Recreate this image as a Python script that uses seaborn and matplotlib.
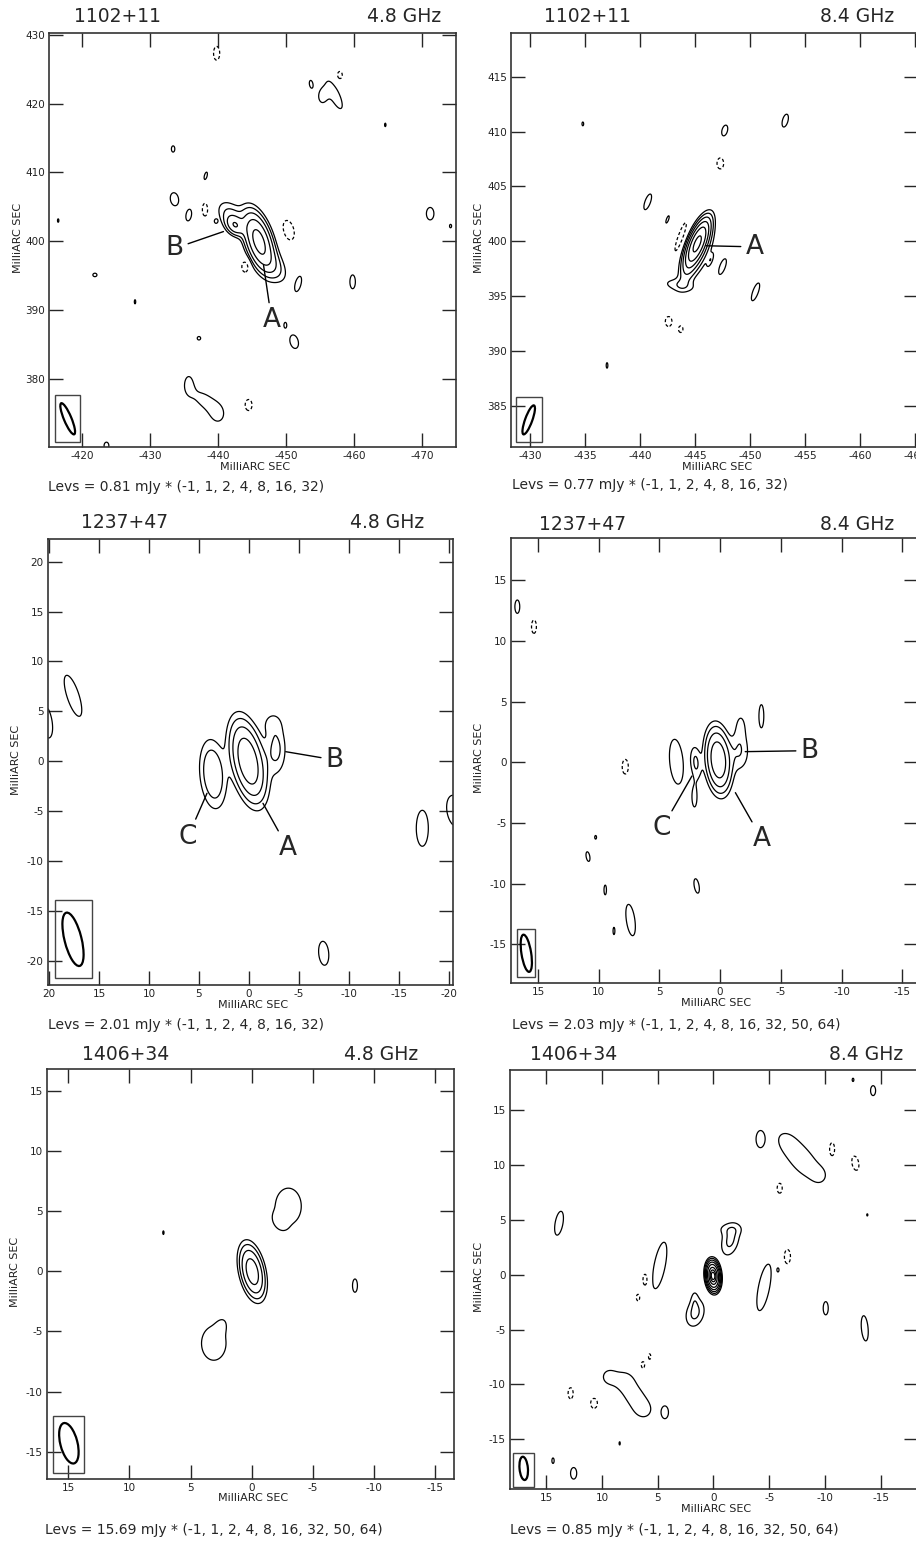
import numpy as np
import matplotlib
matplotlib.use("Agg")
import matplotlib.pyplot as plt
from matplotlib.patches import Ellipse, Rectangle
import seaborn as sns

sns.set_style("ticks")
plt.rcParams['font.family'] = ['DejaVu Sans']

FIG_W, FIG_H = 916, 1550

# ---------------- data ----------------
sources = ["1102+11", "1102+11", "1237+47", "1237+47", "1406+34", "1406+34"]
freqs = ["4.8 GHz", "8.4 GHz", "4.8 GHz", "8.4 GHz", "4.8 GHz", "8.4 GHz"]
base_mjy = [0.81, 0.77, 2.01, 2.03, 15.69, 0.85]
levs_short = [-1, 1, 2, 4, 8, 16, 32]
levs_long = [-1, 1, 2, 4, 8, 16, 32, 50, 64]
panel_levs = [levs_short, levs_short, levs_short, levs_long, levs_long, levs_long]

xlims = [(-415.15, -475.0), (-428.27, -465.27), (20.1, -20.4),
         (17.22, -16.3), (16.74, -16.55), (18.26, -18.35)]
ylims = [(370.1, 430.25), (381.27, 418.98), (-22.44, 22.27),
         (-18.19, 18.49), (-17.27, 16.8), (-19.53, 18.67)]
xticks = [list(range(-420, -471, -10)), list(range(-430, -466, -5)),
          list(range(20, -21, -5)), list(range(15, -16, -5)),
          list(range(15, -16, -5)), list(range(15, -16, -5))]
yticks = [list(range(380, 431, 10)), list(range(385, 416, 5)),
          list(range(-20, 21, 5)), list(range(-15, 16, 5)),
          list(range(-15, 16, 5)), list(range(-15, 16, 5))]

# bright components: (x, y, fwhm_major, fwhm_minor, PA deg, peak in units of lowest level)
comps_1102_c = [(-446.0, 400.0, 5.5, 2.3, 18, 21.0),
                (-442.5, 402.3, 2.2, 1.6, 40, 6.5),
                (-442.0, 403.6, 4.0, 2.5, 40, 2.5),
                (-448.0, 396.6, 4.4, 2.4, 35, 2.5)]
comps_1102_x = [(-445.2, 399.8, 2.8, 0.9, -22, 36.0),
                (-445.3, 399.3, 3.8, 1.6, -20, 3.5),
                (-443.5, 396.0, 2.6, 1.0, 80, 1.5),
                (-444.3, 397.2, 2.5, 1.0, -20, 1.5),
                (-443.7, 400.4, 3.5, 0.6, -20, -1.6)]
comps_1237_c = [(0.1, 0.0, 5.2, 2.0, 12, 14.0),
                (3.6, -1.3, 5.0, 1.9, 5, 3.8),
                (-2.7, 1.2, 4.0, 1.6, 0, 2.4),
                (-2.3, 3.8, 1.8, 1.6, 0, 1.1)]
comps_1237_x = [(0.15, 0.2, 3.3, 1.3, 5, 14.0),
                (-1.6, 0.9, 2.6, 1.3, 0, 2.0),
                (-1.7, 3.0, 2.0, 0.8, 0, 1.2),
                (2.0, 0.0, 2.2, 0.7, 5, 2.2),
                (2.1, -2.9, 2.4, 0.6, 0, 1.3)]
comps_1406_c = [(-0.05, -0.04, 2.85, 1.2, 12, 12.0)]
comps_1406_x = [(0.04, -0.1, 1.4, 0.66, 5, 75.0),
                (-1.5, 3.1, 2.4, 1.3, -15, 2.3),
                (-1.4, 4.2, 2.2, 1.0, 90, 1.0),
                (1.65, -3.5, 2.2, 1.4, -15, 2.3),
                (1.7, -2.2, 1.6, 0.6, 0, 1.0)]

# faint lowest-contour islands: (x, y, width, height, PA deg, weight; <0 = negative)
blobs_1102_c = [(-439.8, 427.3, 0.9, 2.0, 0, -1), (-453.7, 422.8, 0.5, 1.1, 10, 1),
                (-457.9, 424.1, 0.8, 1.2, 0, -1), (-455.3, 421.0, 1.2, 2.0, 0, 0.8),
                (-457.2, 421.2, 1.8, 5.8, 25, 0.8), (-464.6, 416.9, 0.2, 0.5, 0, 1),
                (-433.4, 413.4, 0.5, 0.9, 0, 1), (-438.2, 409.5, 0.4, 1.1, -15, 1),
                (-433.6, 406.1, 1.2, 1.9, 10, 1), (-435.7, 403.8, 0.8, 1.7, -10, 1),
                (-438.1, 404.6, 0.8, 1.9, 0, -1), (-439.7, 402.9, 0.4, 0.5, 0, 1),
                (-450.4, 401.6, 1.5, 2.9, 15, -1), (-444.0, 396.3, 1.0, 1.6, 0, -1),
                (-451.8, 393.8, 0.8, 2.2, -15, 1), (-459.8, 394.1, 0.8, 2.0, 0, 1),
                (-471.2, 404.0, 1.1, 1.8, 0, 1), (-474.2, 402.2, 0.3, 0.5, 0, 1),
                (-416.5, 403.0, 0.2, 0.5, 0, 1), (-421.9, 395.1, 0.6, 0.5, 0, 1),
                (-427.8, 391.2, 0.2, 0.6, 0, 1), (-449.9, 387.8, 0.4, 0.8, 0, 1),
                (-451.2, 385.4, 1.2, 2.0, 15, 1), (-437.2, 385.9, 0.5, 0.5, 0, 1),
                (-435.7, 379.2, 1.5, 3.0, 0, 0.8), (-437.8, 377.0, 1.8, 2.8, 50, 0.8),
                (-439.9, 375.0, 2.3, 3.0, 10, 0.8), (-444.5, 376.2, 1.0, 1.6, 0, -1),
                (-423.6, 370.3, 0.7, 1.0, 0, 1)]
blobs_1102_x = [(-434.8, 410.7, 0.15, 0.35, 0, 1), (-447.7, 410.1, 0.5, 1.0, -15, 1),
                (-453.2, 411.0, 0.5, 1.2, -15, 1), (-447.3, 407.1, 0.6, 1.0, 0, -1),
                (-440.7, 403.6, 0.5, 1.5, -20, 1), (-442.5, 402.0, 0.2, 0.7, -20, 1),
                (-446.4, 398.3, 0.3, 0.9, -20, 1), (-447.5, 397.7, 0.5, 1.5, -20, 1),
                (-450.5, 395.4, 0.5, 1.7, -20, 1), (-442.6, 392.7, 0.6, 0.9, 0, -1),
                (-443.7, 392.0, 0.4, 0.6, 0, -1), (-437.0, 388.7, 0.15, 0.5, 0, 1)]
blobs_1237_c = [(17.6, 6.55, 1.2, 4.3, 18, 1), (20.3, 4.0, 1.2, 3.4, 10, 1),
                (-17.33, -6.73, 1.2, 3.6, 0, 1), (-20.6, -5.0, 1.6, 3.2, 10, 1),
                (-7.47, -19.26, 1.0, 2.4, 5, 1)]
blobs_1237_x = [(3.6, 0.05, 1.1, 3.7, 5, 1), (-3.4, 3.8, 0.4, 1.9, 0, 1),
                (16.7, 12.83, 0.4, 1.1, 0, 1), (15.33, 11.18, 0.4, 1.1, 0, -1),
                (7.81, -0.36, 0.5, 1.2, 0, -1), (10.25, -6.18, 0.15, 0.3, 0, 1),
                (10.88, -7.77, 0.3, 0.8, 10, 1), (9.46, -10.52, 0.2, 0.8, 0, 1),
                (1.93, -10.19, 0.4, 1.2, 10, 1), (7.37, -13.0, 0.7, 2.6, 8, 1),
                (8.74, -13.9, 0.15, 0.6, 0, 1)]
blobs_1406_c = [(-3.0, 5.4, 2.4, 3.4, 0, 0.9), (-2.3, 4.1, 0.7, 1.0, 30, 0.6),
                (3.1, -6.0, 2.0, 2.8, 0, 1.0), (2.5, -4.6, 0.6, 1.0, -20, 0.6),
                (-8.45, -1.2, 0.4, 1.1, 0, 1), (7.22, 3.2, 0.1, 0.3, 0, 1)]
blobs_1406_x = [(-12.52, 17.77, 0.15, 0.3, 0, 1), (-14.32, 16.79, 0.45, 0.9, 0, 1),
                (-4.2, 12.36, 0.75, 1.5, 0, 1),
                (-6.5, 12.2, 1.6, 2.1, 38, 0.7), (-7.6, 10.9, 1.6, 2.1, 38, 0.7),
                (-8.5, 9.8, 1.6, 2.1, 38, 0.7), (-9.6, 9.0, 1.3, 1.5, 0, 0.55),
                (-10.64, 11.44, 0.45, 1.2, 0, -1), (-12.73, 10.17, 0.6, 1.3, 10, -1),
                (-5.94, 7.89, 0.45, 0.9, 0, -1), (-13.8, 5.46, 0.1, 0.2, 0, 1),
                (13.86, 4.7, 0.7, 2.2, -10, 1), (4.83, 0.85, 1.0, 4.3, -11, 1),
                (6.12, -0.47, 0.45, 1.2, 0, -1), (6.77, -2.08, 0.3, 0.6, 0, -1),
                (-4.53, -1.15, 1.0, 4.3, -11, 1), (-5.79, 0.44, 0.15, 0.3, 0, 1),
                (-6.63, 1.66, 0.55, 1.3, 0, -1), (-10.07, -3.05, 0.45, 1.2, 0, 1),
                (-13.57, -4.88, 0.6, 2.3, 5, 1), (5.73, -7.46, 0.2, 0.5, 0, -1),
                (6.33, -8.22, 0.3, 0.6, 0, -1),
                (9.4, -9.3, 1.2, 1.3, 0, 0.8), (8.0, -9.6, 1.4, 1.4, 0, 0.8),
                (7.2, -10.9, 1.6, 1.8, 40, 0.8), (6.3, -12.3, 1.5, 1.6, 40, 0.8),
                (12.82, -10.8, 0.45, 1.0, 0, -1), (10.72, -11.72, 0.6, 0.9, 0, -1),
                (4.35, -12.54, 0.6, 1.1, 0, 1), (8.42, -15.37, 0.1, 0.3, 0, 1),
                (14.4, -16.95, 0.2, 0.5, 0, 1), (12.55, -18.1, 0.55, 1.05, 0, 1)]

panel_comps = [comps_1102_c, comps_1102_x, comps_1237_c, comps_1237_x, comps_1406_c, comps_1406_x]
panel_blobs = [blobs_1102_c, blobs_1102_x, blobs_1237_c, blobs_1237_x, blobs_1406_c, blobs_1406_x]

# restoring beam (x, y, major, minor, PA) and its box (x0, x1, y0, y1)
beams = [(-417.9, 374.2, 4.9, 1.1, 23), (-429.88, 383.74, 2.8, 0.65, -20),
         (17.6, -17.86, 5.5, 1.7, 14), (15.96, -15.74, 3.1, 0.8, 9),
         (14.95, -14.3, 3.45, 1.4, 14), (17.03, -17.65, 2.13, 0.75, 5)]
beam_boxes = [(-416.0, -419.7, 370.85, 377.6), (-428.76, -431.09, 381.76, 385.8),
              (19.43, 15.7, -21.7, -13.92), (16.7, 15.22, -17.72, -13.76),
              (16.23, 13.69, -16.75, -12.0), (17.99, 16.14, -19.32, -16.28)]

# component labels: (letter, text x, text y, line end x, line end y)
labels = [[("B", -433.6, 398.95, -440.8, 401.4), ("A", -447.9, 388.5, -446.7, 396.5)],
          [("A", -450.4, 399.5, -446.0, 399.6)],
          [("B", -8.57, 0.12, -3.67, 0.95), ("C", 6.1, -7.57, 4.2, -3.22),
           ("A", -3.9, -8.74, -1.4, -4.23)],
          [("B", -7.37, 0.96, -2.07, 0.88), ("C", 4.79, -5.44, 2.32, -1.13),
           ("A", -3.45, -6.35, -1.26, -2.5)],
          [], []]

# ---------------- layout (pixels) ----------------
axes_px = [(49, 456, 33, 447), (511, 918, 33, 447), (48, 453, 539, 985),
           (511, 918, 538, 983), (47, 454, 1069, 1479), (510, 918, 1070, 1489)]
src_pos = [(117, 17), (588, 17), (125, 523), (583, 524), (126, 1055), (574, 1055)]
freq_pos = [(441, 17), (894, 17), (424, 523), (894, 524), (418, 1055), (903, 1055)]
xlab_pos = [(255, 467), (717, 467), (253, 1005), (716, 1003), (253, 1498), (716, 1509)]
ylab_pos = [(18, 238), (479, 238), (16, 760), (479, 758), (15, 1272), (479, 1277)]
levs_pos = [(48, 487), (512, 485), (48, 1025), (512, 1025), (45, 1530), (510, 1530)]


def gauss_map(xx, yy, comps):
    z = np.zeros_like(xx)
    for x0, y0, maj, mnr, pa, amp in comps:
        t = np.deg2rad(pa)
        dx, dy = xx - x0, yy - y0
        a = dx * np.sin(t) + dy * np.cos(t)
        b = dx * np.cos(t) - dy * np.sin(t)
        z += amp * np.exp(-4 * np.log(2) * ((a / maj) ** 2 + (b / mnr) ** 2))
    return z


def blobs_to_comps(blobs, peak=1.6):
    # size of the lowest contour -> gaussian fwhm
    k = np.sqrt(np.log(peak) / np.log(2))
    return [(x, y, h / k, w / k, pa, peak * s) for x, y, w, h, pa, s in blobs]


def ftext(fig, px, py, s, **kw):
    fig.text(px / FIG_W, 1 - py / FIG_H, s, **kw)


fig = plt.figure(figsize=(FIG_W / 100, FIG_H / 100), dpi=100)

for i in range(6):
    l, r, t, b = axes_px[i]
    ax = fig.add_axes([l / FIG_W, 1 - b / FIG_H, (r - l) / FIG_W, (b - t) / FIG_H])

    xs = np.linspace(xlims[i][0], xlims[i][1], 900)
    ys = np.linspace(ylims[i][0], ylims[i][1], 900)
    xx, yy = np.meshgrid(xs, ys)
    comps = panel_comps[i] + blobs_to_comps(panel_blobs[i])
    z = base_mjy[i] * gauss_map(xx, yy, comps)
    levels = base_mjy[i] * np.array(panel_levs[i], dtype=float)
    styles = [(0, (2.5, 1.8)) if lv < 0 else 'solid' for lv in levels]
    ax.contour(xx, yy, z, levels=levels, colors='k', linewidths=0.9,
               linestyles=styles)

    bx, by, bmaj, bmin, bpa = beams[i]
    ax.add_patch(Ellipse((bx, by), width=bmin, height=bmaj, angle=-bpa,
                         fill=False, lw=1.6, ec='k'))
    x0, x1, y0, y1 = beam_boxes[i]
    ax.add_patch(Rectangle((x0, y0), x1 - x0, y1 - y0, fill=False, lw=1.0, ec='#444444'))

    for letter, tx, ty, lx, ly in labels[i]:
        ax.annotate(letter, xy=(lx, ly), xytext=(tx, ty), fontsize=19,
                    ha='center', va='center',
                    arrowprops=dict(arrowstyle='-', lw=1.0, color='k',
                                    shrinkA=1, shrinkB=0))

    ax.set_xlim(*xlims[i])
    ax.set_ylim(*ylims[i])
    ax.set_xticks(xticks[i])
    ax.set_yticks(yticks[i])
    ax.set_xticklabels([str(v) for v in xticks[i]])
    ax.set_yticklabels([str(v) for v in yticks[i]])
    ax.tick_params(direction='in', length=10, width=1.0, top=True, right=True,
                   labelsize=7.5, pad=3, labelcolor='#222222')
    for sp in ax.spines.values():
        sp.set_linewidth(1.2)
        sp.set_color('#333333')

    ftext(fig, *src_pos[i], sources[i], fontsize=13.5, ha='center', va='center')
    ftext(fig, *freq_pos[i], freqs[i], fontsize=13.5, ha='right', va='center')
    ftext(fig, *xlab_pos[i], "MilliARC SEC", fontsize=8, ha='center', va='center',
          color='#222222')
    ftext(fig, *ylab_pos[i], "MilliARC SEC", fontsize=8, ha='center', va='center',
          rotation=90, color='#222222')
    lev_str = ", ".join(str(v) for v in panel_levs[i])
    ftext(fig, *levs_pos[i], f"Levs = {base_mjy[i]:.2f} mJy * ({lev_str})",
          fontsize=10, ha='left', va='center')

fig.savefig("out.png", dpi=100)
